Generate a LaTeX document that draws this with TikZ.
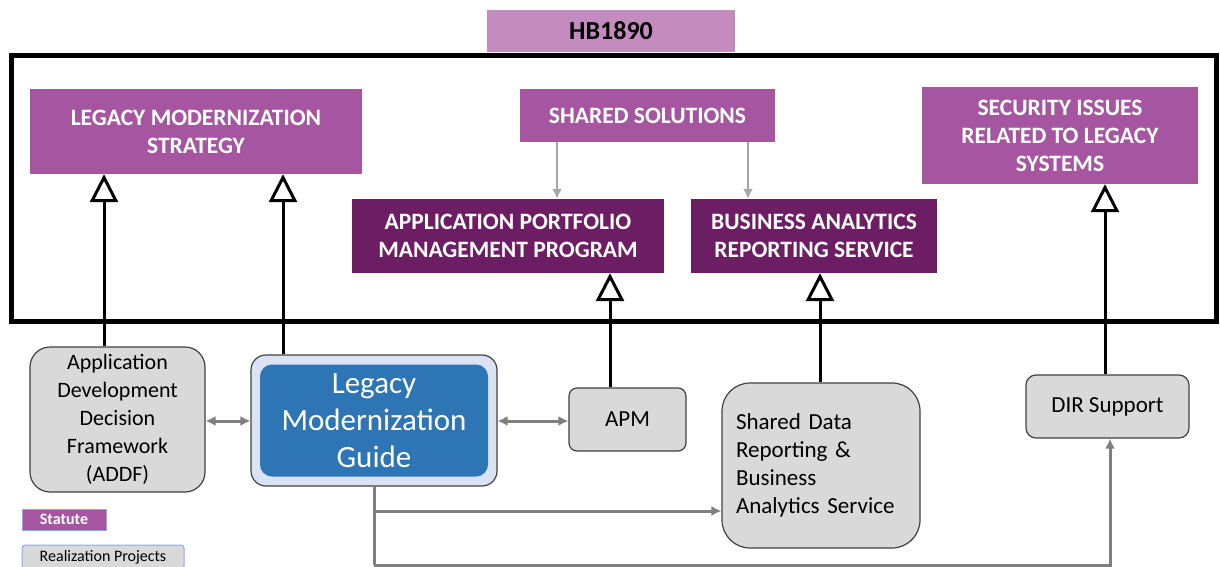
\documentclass[tikz,border=0pt]{standalone}
\usepackage{fontspec}
\setmainfont{Carlito}
\usetikzlibrary{arrows.meta}
\definecolor{hbpurple}{HTML}{C48BBF}
\definecolor{medpurple}{HTML}{A656A0}
\definecolor{darkpurple}{HTML}{6C1D63}
\definecolor{boxgray}{HTML}{D9D9D9}
\definecolor{edgegray}{HTML}{404040}
\definecolor{lmgblue}{HTML}{2E75B6}
\definecolor{lmglight}{HTML}{DAE3F3}
\definecolor{arrowgray}{HTML}{7F7F7F}
\definecolor{lightarrow}{HTML}{A6A6A6}
\definecolor{legendblue}{HTML}{8FAADC}
\begin{document}
\begin{tikzpicture}[x=1pt,y=-1pt,
  hdr/.style={rectangle, inner sep=0pt, align=center, text=white,
    font=\bfseries\fontsize{23.5}{28}\selectfont},
  statbox/.style={hdr, fill=medpurple},
  deepbox/.style={hdr, fill=darkpurple},
  projbox/.style={rectangle, draw=edgegray, line width=1.2pt, fill=boxgray,
    inner sep=0pt, align=center, font=\fontsize{23}{28}\selectfont},
  realize/.style={line width=3pt, -{Triangle[open, length=28pt, width=28pt, line width=3pt]}},
  twoway/.style={draw=arrowgray, line width=3pt, {Latex[length=10pt,width=10pt]}-{Latex[length=10pt,width=10pt]}},
  oneway/.style={draw=arrowgray, line width=3pt, -{Latex[length=10pt,width=10pt]}},
  feed/.style={draw=lightarrow, line width=2.5pt, -{Latex[length=10pt,width=10pt]}}
]
\useasboundingbox (0,0) rectangle (1220,567);

% title
\node[rectangle, fill=hbpurple, minimum width=248pt, minimum height=42pt, inner sep=0pt,
  font=\bfseries\fontsize{26}{30}\selectfont] (hb) at (611,31) {HB1890};

% frame
\node[draw=black, line width=5pt, minimum width=1205pt, minimum height=265pt, inner sep=0pt] (frame) at (613.5,188.5) {};

% statute boxes
\node[statbox, minimum width=332pt, minimum height=85pt] (lms) at (196,131.5) {LEGACY MODERNIZATION\\STRATEGY};
\node[statbox, minimum width=255pt, minimum height=53pt] (ss) at (647.5,115.5) {SHARED SOLUTIONS};
\node[statbox, minimum width=276pt, minimum height=97pt] (sec) at (1060,135.5) {SECURITY ISSUES\\RELATED TO LEGACY\\SYSTEMS};
\node[deepbox, minimum width=312pt, minimum height=74pt] (apmp) at (508,236) {APPLICATION PORTFOLIO\\MANAGEMENT PROGRAM};
\node[deepbox, minimum width=246pt, minimum height=74pt] (bars) at (814,236) {BUSINESS ANALYTICS\\REPORTING SERVICE};

% projects
\node[projbox, rounded corners=20pt, minimum width=175pt, minimum height=145pt,
  font=\fontsize{22}{28}\selectfont] (addf) at (117.5,419.5)
  {Application\\Development\\Decision\\Framework\\(ADDF)};
\node[draw=edgegray, line width=1.2pt, fill=lmglight, rounded corners=15pt,
  minimum width=246pt, minimum height=131pt, inner sep=0pt] (lmg) at (374,420.5) {};
\node[fill=lmgblue, rounded corners=12pt, minimum width=228pt, minimum height=112pt, inner sep=0pt,
  text=white, align=center, font=\fontsize{31}{37}\selectfont] (lmgin) at (374,420.5)
  {Legacy\\Modernization\\Guide};
\node[projbox, rounded corners=8pt, minimum width=117pt, minimum height=63pt] (apm) at (627.5,419.5) {APM};
\node[projbox, rounded corners=28pt, minimum width=198pt, minimum height=165pt, align=left,
  text width=170pt, inner xsep=14pt] (sd) at (821,465.5)
  {Shared Data\\Reporting \&\\Business\\Analytics Service};
\node[projbox, rounded corners=10pt, minimum width=163pt, minimum height=63pt] (dir) at (1107.5,406.5) {DIR Support};

% legend
\node[rectangle, fill=medpurple, draw=legendblue, line width=0.6pt, minimum width=84pt, minimum height=21pt, inner sep=0pt,
  text=white, font=\bfseries\fontsize{16}{18}\selectfont] (legstat) at (64,519.5) {Statute};
\node[rectangle, fill=boxgray, draw=legendblue, line width=1pt, rounded corners=3pt, minimum width=162pt, minimum height=24pt, inner sep=0pt,
  font=\fontsize{16}{18}\selectfont] (legproj) at (103,557) {Realization Projects};

% realization arrows
\draw[realize] (addf.north -| 104,0) -- (lms.south -| 104,0);
\draw[realize] (lmg.north -| 283,0) -- (lms.south -| 283,0);
\draw[realize] (apm.north -| 610,0) -- (apmp.south -| 610,0);
\draw[realize] (sd.north -| 820,0) -- (bars.south -| 820,0);
\draw[realize] (dir.north -| 1105,0) -- (sec.south -| 1105,0);

% shared solutions feeds
\draw[feed] (ss.south -| 557,0) -- (apmp.north -| 557,0);
\draw[feed] (ss.south -| 748,0) -- (bars.north -| 748,0);

% gray links
\draw[twoway] (addf.east |- 0,421) -- (lmg.west |- 0,421);
\draw[twoway] (lmg.east |- 0,421) -- (apm.west |- 0,421);
\coordinate (branch) at (374,511);
\coordinate (corner) at (374,565);
\draw[draw=arrowgray, line width=3pt] (lmg.south) -- (corner);
\draw[oneway] (branch) -- (sd.west |- branch);
\draw[oneway] (corner) -| (dir.south -| 1110,0);
\end{tikzpicture}
\end{document}
